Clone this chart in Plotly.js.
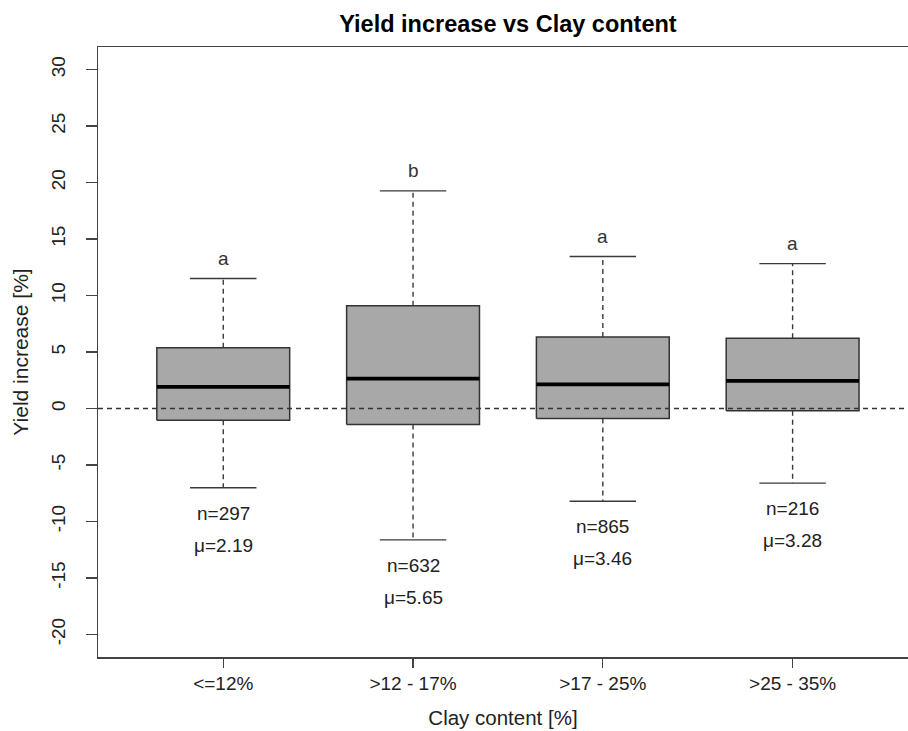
<!DOCTYPE html>
<html>
<head>
<meta charset="utf-8">
<script src="https://cdn.plot.ly/plotly-3.0.1.min.js"></script>
<style>
html, body { margin: 0; padding: 0; overflow: hidden; background: #fff; }
#chart { width: 908px; height: 731px; }
</style>
</head>
<body>
<div id="chart"></div>
<script>
// ---- data ----
const categories = ["<=12%", ">12 - 17%", ">17 - 25%", ">25 - 35%"];
const lowerWhisker = [-7.02, -11.63, -8.21, -6.61];
const q1Values = [-1.04, -1.42, -0.89, -0.21];
const medianValues = [1.92, 2.65, 2.13, 2.45];
const q3Values = [5.38, 9.09, 6.33, 6.22];
const upperWhisker = [11.51, 19.26, 13.46, 12.82];
const groupLetters = ["a", "b", "a", "a"];
const sampleCounts = [297, 632, 865, 216];
const meanValues = ["2.19", "5.65", "3.46", "3.28"];
const yTickValues = [-20, -15, -10, -5, 0, 5, 10, 15, 20, 25, 30];

// ---- geometry/style constants ----
const halfBox = 0.35;
const halfCap = 0.175;
const FONT = "Liberation Sans, Arial, sans-serif";

const pos = categories.map((_, i) => i + 1);

const boxX = [], boxY = [], medX = [], medY = [], whX = [], whY = [], capX = [], capY = [];
pos.forEach((c, i) => {
  boxX.push(c - halfBox, c + halfBox, c + halfBox, c - halfBox, c - halfBox, null);
  boxY.push(q1Values[i], q1Values[i], q3Values[i], q3Values[i], q1Values[i], null);
  medX.push(c - halfBox, c + halfBox, null);
  medY.push(medianValues[i], medianValues[i], null);
  whX.push(c, c, null, c, c, null);
  whY.push(q3Values[i], upperWhisker[i], null, q1Values[i], lowerWhisker[i], null);
  capX.push(c - halfCap, c + halfCap, null, c - halfCap, c + halfCap, null);
  capY.push(upperWhisker[i], upperWhisker[i], null, lowerWhisker[i], lowerWhisker[i], null);
});

const traces = [
  { x: whX, y: whY, mode: "lines", line: { color: "#3a3a3a", width: 1.4, dash: "5px,4px" }, hoverinfo: "skip" },
  { x: capX, y: capY, mode: "lines", line: { color: "#3a3a3a", width: 1.4 }, hoverinfo: "skip" },
  { x: boxX, y: boxY, mode: "lines", fill: "toself", fillcolor: "#a8a8a8", line: { color: "#333333", width: 1.5 }, hoverinfo: "skip" },
  { x: medX, y: medY, mode: "lines", line: { color: "#000000", width: 3.8 }, hoverinfo: "skip" }
];

const annotations = [];
pos.forEach((c, i) => {
  annotations.push({ x: c, y: upperWhisker[i] + 1.8, xref: "x", yref: "y", text: groupLetters[i], showarrow: false,
    font: { family: FONT, size: 19, color: "#333" }, yanchor: "middle" });
  annotations.push({ x: c, y: lowerWhisker[i] - 2.25, xref: "x", yref: "y", text: "n=" + sampleCounts[i], showarrow: false,
    font: { family: FONT, size: 19, color: "#222" }, yanchor: "middle" });
  annotations.push({ x: c, y: lowerWhisker[i] - 5.1, xref: "x", yref: "y", text: "\u03bc=" + meanValues[i], showarrow: false,
    font: { family: FONT, size: 19, color: "#222" }, yanchor: "middle" });
});

const layout = {
  width: 908, height: 731,
  margin: { l: 98, r: 0, t: 47, b: 74, pad: 0 },
  paper_bgcolor: "#fff", plot_bgcolor: "#fff",
  showlegend: false,
  font: { family: FONT, size: 19, color: "#222" },
  title: { text: "<b>Yield increase vs Clay content</b>", font: { family: FONT, size: 23.5, color: "#000" },
    x: 508 / 908, xref: "container", xanchor: "center", y: 1 - 24 / 731, yref: "container", yanchor: "middle" },
  xaxis: {
    range: [0.34, 4.608], tickmode: "array", tickvals: pos, ticktext: categories,
    ticks: "outside", ticklen: 9, tickwidth: 1.3, tickcolor: "#444",
    showline: true, linecolor: "#444", linewidth: 1.5, mirror: true,
    showgrid: false, zeroline: false, fixedrange: true,
    tickfont: { family: FONT, size: 19, color: "#222" },
    title: { text: "Clay content [%]", font: { family: FONT, size: 20.5, color: "#222" }, standoff: 17 }
  },
  yaxis: {
    range: [-22, 32], tickmode: "array", tickvals: yTickValues, ticktext: yTickValues.map(String),
    ticks: "outside", ticklen: 11, tickwidth: 1.3, tickcolor: "#444", tickangle: -90,
    ticklabelstandoff: 13,
    showline: true, linecolor: "#444", linewidth: 1.5, mirror: false,
    showgrid: false, zeroline: false, fixedrange: true,
    tickfont: { family: FONT, size: 19, color: "#222" },
    title: { text: "Yield increase [%]", font: { family: FONT, size: 21, color: "#222" }, standoff: 13 }
  },
  shapes: [
    { type: "line", xref: "paper", yref: "y", x0: 0, x1: 1, y0: 0, y1: 0,
      line: { color: "#333", width: 1.4, dash: "5px,4px" }, layer: "above" }
  ],
  annotations: annotations
};

Plotly.newPlot("chart", traces, layout, { staticPlot: true, displayModeBar: false });
</script>
</body>
</html>
